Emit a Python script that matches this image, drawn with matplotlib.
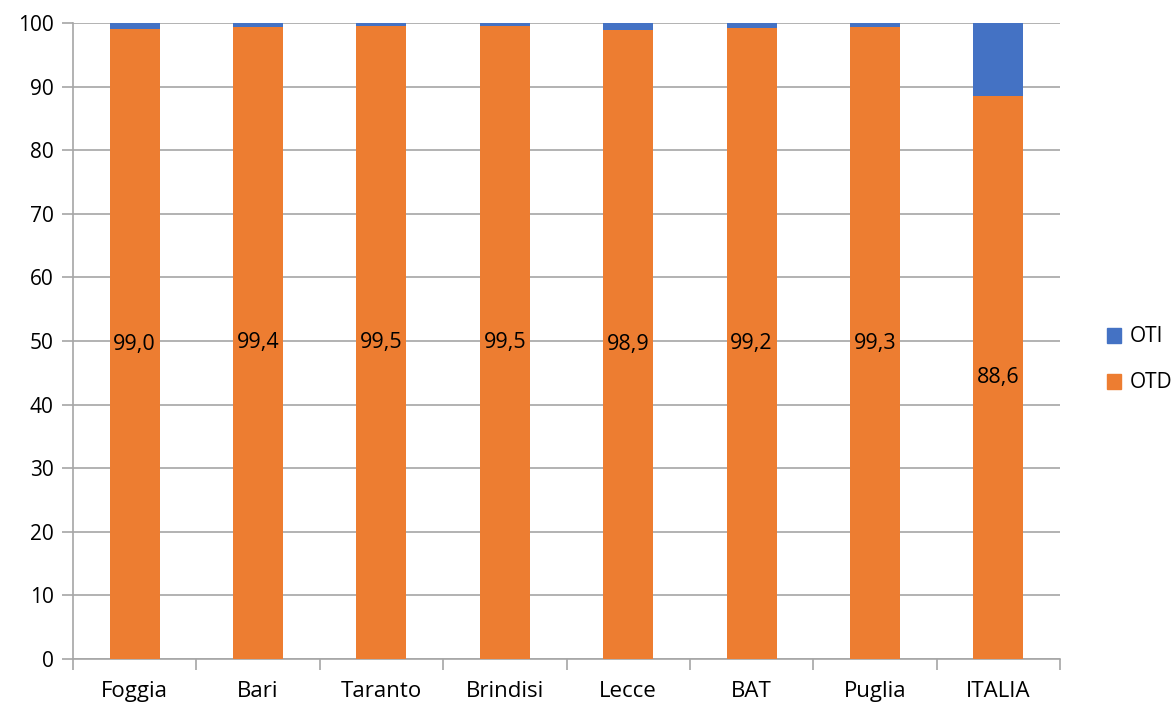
import matplotlib.pyplot as plt
from matplotlib.patches import Patch

# Data
categories = ['Foggia', 'Bari', 'Taranto', 'Brindisi', 'Lecce', 'BAT', 'Puglia', 'ITALIA']
otd = [99.0, 99.4, 99.5, 99.5, 98.9, 99.2, 99.3, 88.6]
oti = [round(100 - v, 1) for v in otd]
otd_labels = ['99,0', '99,4', '99,5', '99,5', '98,9', '99,2', '99,3', '88,6']

c_otd = '#ED7D31'
c_oti = '#4472C4'

plt.rcParams['font.family'] = ['Open Sans', 'DejaVu Sans']

fig = plt.figure(figsize=(11.73, 7.06), dpi=100)
ax = fig.add_axes([73 / 1173, 1 - 659 / 706, (1060 - 73) / 1173, (659 - 23) / 706])

x = range(len(categories))
bars_otd = ax.bar(x, otd, width=0.405, color=c_otd, zorder=3)
ax.bar(x, oti, bottom=otd, width=0.405, color=c_oti, zorder=3)

# Value labels centred in the orange segment
for rect, lab in zip(bars_otd, otd_labels):
    ax.text(rect.get_x() + rect.get_width() / 2, rect.get_height() / 2, lab,
            ha='center', va='center', fontsize=15.5, color='black', zorder=4)

ax.set_xlim(-0.5, len(categories) - 0.5)
ax.set_ylim(0, 100)
ax.set_yticks(range(0, 101, 10))
ax.set_xticks(list(x))
ax.set_xticklabels(categories)
ax.set_xticks([i - 0.5 for i in range(len(categories) + 1)], minor=True)

ax.tick_params(axis='x', which='major', length=0, labelsize=16, pad=16)
ax.tick_params(axis='x', which='minor', length=8, color='#A6A6A6', width=1.2)
ax.tick_params(axis='y', length=8, color='#A6A6A6', width=1.2, labelsize=15, pad=6)

ax.grid(axis='y', color='#A6A6A6', linewidth=1.2, zorder=0)
for s in ['top', 'right']:
    ax.spines[s].set_visible(False)
ax.spines['left'].set_color('#A6A6A6')
ax.spines['bottom'].set_color('#A6A6A6')
ax.spines['left'].set_linewidth(1.2)
ax.spines['bottom'].set_linewidth(1.2)

handles = [Patch(color=c_oti, label='OTI'), Patch(color=c_otd, label='OTD')]
fig.legend(handles=handles, loc='center left', bbox_to_anchor=(1088 / 1173, 1 - 360 / 706),
           frameon=False, fontsize=15, handlelength=0.7, handleheight=0.7,
           handletextpad=0.4, labelspacing=1.2)

fig.savefig('out.png', dpi=100)
